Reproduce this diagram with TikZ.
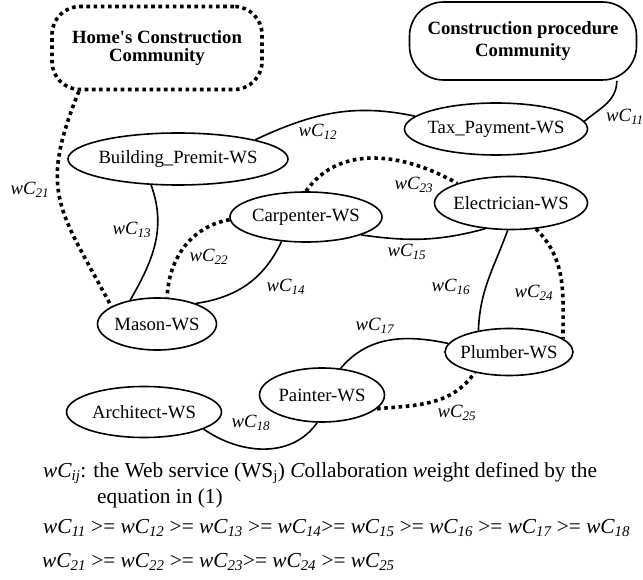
\documentclass[tikz,border=0pt]{standalone}
\usepackage{fontspec}
\setmainfont{Liberation Serif}
\usepackage{tikz}
\usetikzlibrary{shapes.geometric}

\newcommand{\wc}[1]{\textit{wC\textsubscript{#1}}}

\begin{document}
\begin{tikzpicture}[x=1pt, y=1pt,
  every node/.style={font=\fontsize{18.7}{20}\selectfont},
  ws/.style={draw, ellipse, line width=1.6pt, inner sep=0pt, inner xsep=-30pt},
  link/.style={line width=1.6pt},
  dots/.style={line width=3.6pt, dash pattern=on 3.6pt off 3.6pt},
  lbl/.style={inner sep=0pt},
  note/.style={inner sep=0pt, anchor=base west, font=\fontsize{21.3}{24}\selectfont}]
  \useasboundingbox (0,0) rectangle (643,579);

  % the two communities
  \node[draw, dots, rounded corners=28pt, minimum width=210pt, minimum height=83pt,
        align=center, font=\fontsize{18.7}{18}\selectfont\bfseries] (home) at (157,531)
        {Home\textquotesingle s Construction\\Community};
  \node[draw, line width=1.6pt, rounded corners=34pt, minimum width=227pt, minimum height=78pt,
        align=center, font=\fontsize{18.7}{22}\selectfont\bfseries] (proc) at (523,538)
        {Construction procedure\\Community};

  % web services
  \node[ws, minimum width=183pt, minimum height=52pt] (tax) at (496,450) {Tax\_Payment-WS};
  \node[ws, minimum width=220pt, minimum height=52pt] (bp) at (178,420) {Building\_Premit-WS};
  \node[ws, minimum width=152pt, minimum height=50pt] (carp) at (306,362) {Carpenter-WS};
  \node[ws, minimum width=153pt, minimum height=53pt] (elec) at (511,376) {Electrician-WS};
  \node[ws, minimum width=119pt, minimum height=52pt] (mason) at (157,255) {Mason-WS};
  \node[ws, minimum width=128pt, minimum height=47pt] (plumb) at (509,227) {Plumber-WS};
  \node[ws, minimum width=125pt, minimum height=54pt] (paint) at (322,184) {Painter-WS};
  \node[ws, minimum width=155pt, minimum height=51pt] (arch) at (144,167) {Architect-WS};

  % first community links
  \draw[link] (proc.-23) to[out=-90, in=40] (tax.5);
  \draw[link] (bp.14) to[out=25, in=168] (tax.171);
  \draw[link] (bp.224) to[out=-70, in=60] (mason.138);
  \draw[link] (carp.225) to[out=-115, in=8] (mason.28);
  \draw[link] (carp.-18) to[out=-8, in=195] (elec.225);
  \draw[link] (elec.263) to[out=-110, in=88] (plumb.145);
  \draw[link] (paint.55) to[out=50, in=168] (plumb.172);
  \draw[link] (arch.-16) to[out=-35, in=235] (paint.260);

  % second community links
  \draw[dots] (home.209) to[out=-112, in=118, looseness=1.3] (mason.159);
  \draw[dots] (carp.182) to[out=190, in=88] (mason.69);
  \draw[dots] (carp.90) to[out=55, in=150] (elec.160);
  \draw[dots] (elec.-46) to[out=-45, in=90] (plumb.14);
  \draw[dots] (paint.-14) to[out=5, in=235] (plumb.211);

  % weights
  \node[lbl, anchor=west] (w11) at (606,462) {\wc{11}};
  \node[lbl] (w12) at (318,447) {\wc{12}};
  \node[lbl] (w13) at (132,349) {\wc{13}};
  \node[lbl] (w14) at (286,292) {\wc{14}};
  \node[lbl] (w15) at (407,327) {\wc{15}};
  \node[lbl] (w16) at (451,292) {\wc{16}};
  \node[lbl] (w17) at (375,253) {\wc{17}};
  \node[lbl] (w18) at (251,156) {\wc{18}};
  \node[lbl] (w21) at (30,389) {\wc{21}};
  \node[lbl] (w22) at (209,322) {\wc{22}};
  \node[lbl] (w23) at (414,394) {\wc{23}};
  \node[lbl] (w24) at (534,286) {\wc{24}};
  \node[lbl] (w25) at (457,166) {\wc{25}};

  % legend
  \node[note] (legend) at (43,102)
    {\wc{ij}: the Web service (WS\textsubscript{j}) \textit{C}ollaboration \textit{w}eight defined by the};
  \node[note] (legendb) at (97,76) {equation in (1)};
  \node[note] (order1) at (43,46)
    {\wc{11} >= \wc{12} >= \wc{13} >= \wc{14}>= \wc{15} >= \wc{16} >= \wc{17} >= \wc{18}};
  \node[note] (order2) at (42,12)
    {\wc{21} >= \wc{22} >= \wc{23}>= \wc{24} >= \wc{25}};
\end{tikzpicture}
\end{document}
